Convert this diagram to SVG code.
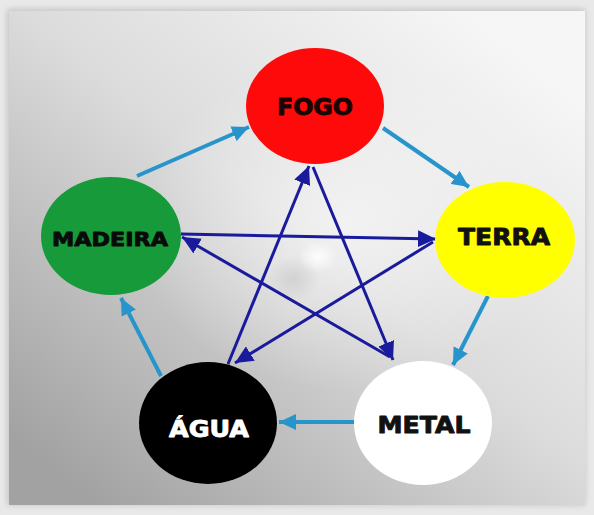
<svg xmlns="http://www.w3.org/2000/svg" width="594" height="515" viewBox="0 0 594 515">
  <defs>
    <linearGradient id="panel" x1="0.9" y1="0.1" x2="0.1" y2="0.95">
      <stop offset="0" stop-color="#f6f6f6"/>
      <stop offset="0.45" stop-color="#dcdcdc"/>
      <stop offset="1" stop-color="#a2a2a2"/>
    </linearGradient>
    <radialGradient id="glow" cx="0.5" cy="0.5" r="0.5">
      <stop offset="0" stop-color="#ffffff" stop-opacity="0.6"/>
      <stop offset="1" stop-color="#ffffff" stop-opacity="0"/>
    </radialGradient>
    <radialGradient id="shade" cx="0.5" cy="0.5" r="0.5">
      <stop offset="0" stop-color="#909090" stop-opacity="0.22"/>
      <stop offset="1" stop-color="#909090" stop-opacity="0"/>
    </radialGradient>
    <radialGradient id="spot" cx="0.5" cy="0.5" r="0.5">
      <stop offset="0" stop-color="#ffffff" stop-opacity="0.9"/>
      <stop offset="1" stop-color="#ffffff" stop-opacity="0"/>
    </radialGradient>
    <filter id="blur" x="-5%" y="-5%" width="110%" height="110%">
      <feGaussianBlur stdDeviation="3"/>
    </filter>
    <marker id="lb" markerUnits="userSpaceOnUse" markerWidth="18" markerHeight="16" refX="17" refY="8" orient="auto">
      <path d="M0,0 L17,8 L0,16 Z" fill="#2794cc"/>
    </marker>
    <marker id="db" markerUnits="userSpaceOnUse" markerWidth="19" markerHeight="17" refX="18" refY="8.5" orient="auto">
      <path d="M0,0 L18,8.5 L0,17 Z" fill="#1a1a9c"/>
    </marker>
    <style>
      .lbl { font-family: "DejaVu Sans", "Liberation Sans", sans-serif; font-weight: bold; text-anchor: middle; stroke-width: 0.9; stroke-linejoin: round; }
      .gen { stroke: #2794cc; stroke-width: 4; fill: none; marker-end: url(#lb); }
      .ctl { stroke: #1a1a9c; stroke-width: 3; fill: none; marker-end: url(#db); }
    </style>
  </defs>

  <!-- background frame -->
  <rect x="0" y="0" width="594" height="515" fill="#e9e9e9"/>
  <rect x="7" y="9" width="578" height="496" fill="#c4c4c4" filter="url(#blur)"/>
  <rect x="9" y="11" width="576" height="494" fill="url(#panel)"/>
  <ellipse cx="345" cy="225" rx="210" ry="165" fill="url(#glow)"/>
  <ellipse cx="294" cy="278" rx="26" ry="22" fill="url(#shade)"/>
  <ellipse cx="318" cy="257" rx="20" ry="16" fill="url(#spot)"/>

  <!-- connectors -->
  <g id="connectors">
    <line class="gen" x1="137" y1="176" x2="249" y2="127"/>
    <line class="gen" x1="383" y1="128" x2="469" y2="187"/>
    <line class="gen" x1="488" y1="296" x2="453" y2="365"/>
    <line class="gen" x1="354" y1="422" x2="279" y2="422"/>
    <line class="gen" x1="161" y1="376" x2="121" y2="298"/>

    <line class="ctl" x1="181" y1="234" x2="436" y2="239"/>
    <line class="ctl" x1="433" y1="242" x2="235" y2="363"/>
    <line class="ctl" x1="228" y1="364" x2="309" y2="166"/>
    <line class="ctl" x1="313" y1="167" x2="393" y2="360"/>
    <line class="ctl" x1="390" y1="357" x2="182" y2="237"/>
  </g>

  <g id="fogo">
    <ellipse cx="315" cy="106" rx="69" ry="58" fill="#ff0a0a"/>
    <text class="lbl" x="315" y="115" font-size="23" textLength="76" lengthAdjust="spacingAndGlyphs" fill="#1a0505" stroke="#1a0505">FOGO</text>
  </g>
  <g id="terra">
    <ellipse cx="505" cy="240" rx="70" ry="58" fill="#ffff00"/>
    <text class="lbl" x="504" y="245" font-size="23" textLength="92" lengthAdjust="spacingAndGlyphs" fill="#111111" stroke="#111111">TERRA</text>
  </g>
  <g id="metal">
    <ellipse cx="423" cy="423" rx="69" ry="62" fill="#ffffff"/>
    <text class="lbl" x="424" y="433" font-size="23" textLength="93" lengthAdjust="spacingAndGlyphs" fill="#111111" stroke="#111111">METAL</text>
  </g>
  <g id="agua">
    <ellipse cx="208" cy="423" rx="69" ry="61" fill="#000000"/>
    <text class="lbl" x="209" y="437" font-size="23" textLength="80" lengthAdjust="spacingAndGlyphs" fill="#ffffff" stroke="#ffffff">ÁGUA</text>
  </g>
  <g id="madeira">
    <ellipse cx="111" cy="236" rx="70" ry="59" fill="#179a3a"/>
    <text class="lbl" x="110" y="246" font-size="20" textLength="116" lengthAdjust="spacingAndGlyphs" fill="#0a0a0a" stroke="#0a0a0a">MADEIRA</text>
  </g>
</svg>
